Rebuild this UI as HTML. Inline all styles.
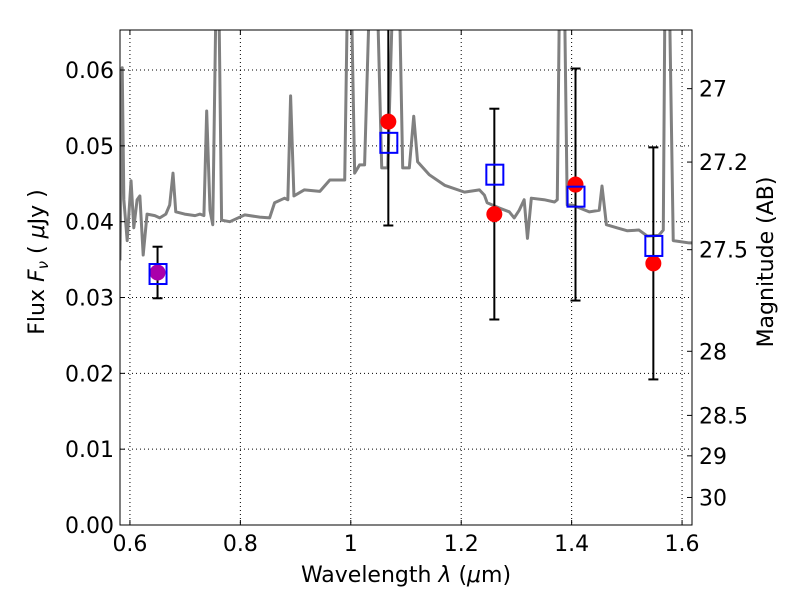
<!DOCTYPE html>
<html><head><meta charset="utf-8"><style>
body{margin:0;background:#fff;font-family:"Liberation Sans","DejaVu Sans",sans-serif}
svg text{font-family:"DejaVu Sans","Liberation Sans",sans-serif}
</style></head><body>
<svg id="chart" width="800" height="600" viewBox="0 0 800 600" xmlns="http://www.w3.org/2000/svg">
<defs><clipPath id="clip"><rect x="120" y="30" width="572" height="495"/></clipPath></defs>
<rect x="0" y="0" width="800" height="600" fill="#fff"/>
<g id="grid"></g>
<g id="spec" clip-path="url(#clip)"></g>
<g id="marks" clip-path="url(#clip)"></g>
<rect x="120" y="30" width="572" height="495" fill="none" stroke="#000" stroke-width="1"/>
<g id="axes"></g>
<text x="406" y="582" font-size="22" text-anchor="middle">Wavelength  <tspan font-style="italic">λ</tspan> (<tspan font-style="italic">μ</tspan>m)</text>
<text transform="translate(44,262) rotate(-90)" font-size="22" text-anchor="middle">Flux  <tspan font-style="italic">F</tspan><tspan font-style="italic" font-size="15" dy="4">ν</tspan><tspan dy="-4">  (  </tspan><tspan font-style="italic">μ</tspan>Jy )</text>
<text transform="translate(773,262) rotate(-90)" font-size="22" text-anchor="middle">Magnitude (AB)</text>
</svg>
<script>
const xTicks=[0.6,0.8,1.0,1.2,1.4,1.6];
const xTickLabels=["0.6","0.8","1","1.2","1.4","1.6"];
const yTicks=[0,0.01,0.02,0.03,0.04,0.05,0.06];
const yTickLabels=["0.00","0.01","0.02","0.03","0.04","0.05","0.06"];
const magTicks=[27,27.2,27.5,28,28.5,29,30];
const magTickLabels=["27","27.2","27.5","28","28.5","29","30"];
const specLam=[
0.582,0.586,0.589,0.595,0.602,0.607,0.613,0.618,0.624,0.631,
0.645,0.654,0.665,0.672,0.678,0.683,0.699,0.718,0.727,0.734,
0.739,0.745,0.750,0.756,0.761,0.766,0.781,0.808,0.835,0.853,
0.862,0.880,0.886,0.891,0.897,0.916,0.944,0.962,0.989,0.994,
1.001,1.007,1.016,1.025,1.034,1.048,1.056,1.067,1.076,1.088,
1.094,1.106,1.114,1.121,1.142,1.170,1.206,1.233,1.242,1.247,
1.269,1.287,1.296,1.305,1.314,1.320,1.327,1.350,1.369,1.374,
1.378,1.387,1.392,1.401,1.432,1.450,1.455,1.463,1.482,1.501,
1.522,1.537,1.558,1.566,1.569,1.577,1.584,1.613,1.618];
const specFlux=[
0.0349,0.0603,0.0429,0.0375,0.0454,0.0392,0.0429,0.0434,0.0356,0.0410,
0.0408,0.0405,0.0410,0.0422,0.0464,0.0413,0.0410,0.0408,0.0410,0.0408,
0.0546,0.0415,0.0396,0.07,0.07,0.0402,0.0400,0.0409,0.0406,0.0405,
0.0425,0.0431,0.0429,0.0566,0.0434,0.0442,0.0440,0.0455,0.0455,0.07,
0.07,0.0464,0.0475,0.0475,0.07,0.07,0.0471,0.0471,0.07,0.07,
0.0471,0.0471,0.0539,0.0479,0.0462,0.0448,0.0439,0.0442,0.0435,0.0425,
0.0418,0.0413,0.0405,0.0415,0.0429,0.0378,0.0431,0.0429,0.0426,0.0429,
0.07,0.07,0.0422,0.0422,0.0413,0.0415,0.0447,0.0396,0.0392,0.0388,
0.0389,0.0381,0.0382,0.0389,0.07,0.07,0.0375,0.0372,0.0372];
const ptLam=[0.65,1.068,1.26,1.407,1.548];
const obsFlux=[0.0333,0.0532,0.0410,0.0449,0.0345];
const obsErr=[0.0034,0.0137,0.0139,0.0153,0.0153];
const modelFlux=[0.0331,0.0504,0.0462,0.0433,0.0368];
const pointColors=["#aa00aa","#ff0000","#ff0000","#ff0000","#ff0000"];

const NS="http://www.w3.org/2000/svg";
const X0=0.582,X1=1.618,Y0=0,Y1=0.06528;
const L=120,R=692,T=30,B=525;
const xs=v=>L+(v-X0)/(X1-X0)*(R-L);
const ys=v=>B-(v-Y0)/(Y1-Y0)*(B-T);
const magToFlux=m=>Math.pow(10,(23.9-m)/2.5);
function mk(tag,attrs,parent,txt){const e=document.createElementNS(NS,tag);for(const k in attrs)e.setAttribute(k,attrs[k]);if(txt!==undefined)e.textContent=txt;parent.appendChild(e);return e;}
const grid=document.getElementById('grid'),axes=document.getElementById('axes');
xTicks.forEach((t,i)=>{const x=xs(t);
 const g=mk('line',{x1:x,x2:x,y1:T,y2:B,stroke:'#000','stroke-width':1,'stroke-dasharray':'1,3'},grid);
 
 mk('line',{x1:x,x2:x,y1:B,y2:B-5,stroke:'#000'},axes);mk('line',{x1:x,x2:x,y1:T,y2:T+5,stroke:'#000'},axes);
 const l=mk('text',{x:x,y:B+26,'font-size':22,'text-anchor':'middle'},axes,xTickLabels[i]);
 });
yTicks.forEach((t,i)=>{const y=ys(t);
 const g=mk('line',{x1:L,x2:R,y1:y,y2:y,stroke:'#000','stroke-width':1,'stroke-dasharray':'1,3'},grid);
 
 mk('line',{x1:L,x2:L+5,y1:y,y2:y,stroke:'#000'},axes);
 const l=mk('text',{x:L-6,y:y+8,'font-size':22,'text-anchor':'end'},axes,yTickLabels[i]);
 });
magTicks.forEach((m,i)=>{const y=ys(magToFlux(m));
 mk('line',{x1:R,x2:R-5,y1:y,y2:y,stroke:'#000'},axes);
 const l=mk('text',{x:R+7,y:y+8,'font-size':22},axes,magTickLabels[i]);
 });
const spec=document.getElementById('spec');
const p=mk('polyline',{points:specLam.map((v,i)=>xs(v)+','+ys(specFlux[i])).join(' '),fill:'none',stroke:'#808080','stroke-width':3,'stroke-linejoin':'round'},spec);

const marks=document.getElementById('marks');
ptLam.forEach((v,i)=>{const x=xs(v);
 const top=ys(obsFlux[i]+obsErr[i]),bot=ys(obsFlux[i]-obsErr[i]);
 const e=mk('g',{},marks);
 
 mk('line',{x1:x,x2:x,y1:top,y2:bot,stroke:'#000','stroke-width':2},e);
 mk('line',{x1:x-5,x2:x+5,y1:top,y2:top,stroke:'#000','stroke-width':2},e);
 mk('line',{x1:x-5,x2:x+5,y1:bot,y2:bot,stroke:'#000','stroke-width':2},e);
 const c=mk('circle',{cx:x,cy:ys(obsFlux[i]),r:8,fill:pointColors[i]},marks);
 
 const s=mk('rect',{x:xs(v)-8,y:ys(modelFlux[i])-10,width:17,height:20,fill:'none',stroke:'#0000ff','stroke-width':2},marks);
 });
</script>
</body></html>
